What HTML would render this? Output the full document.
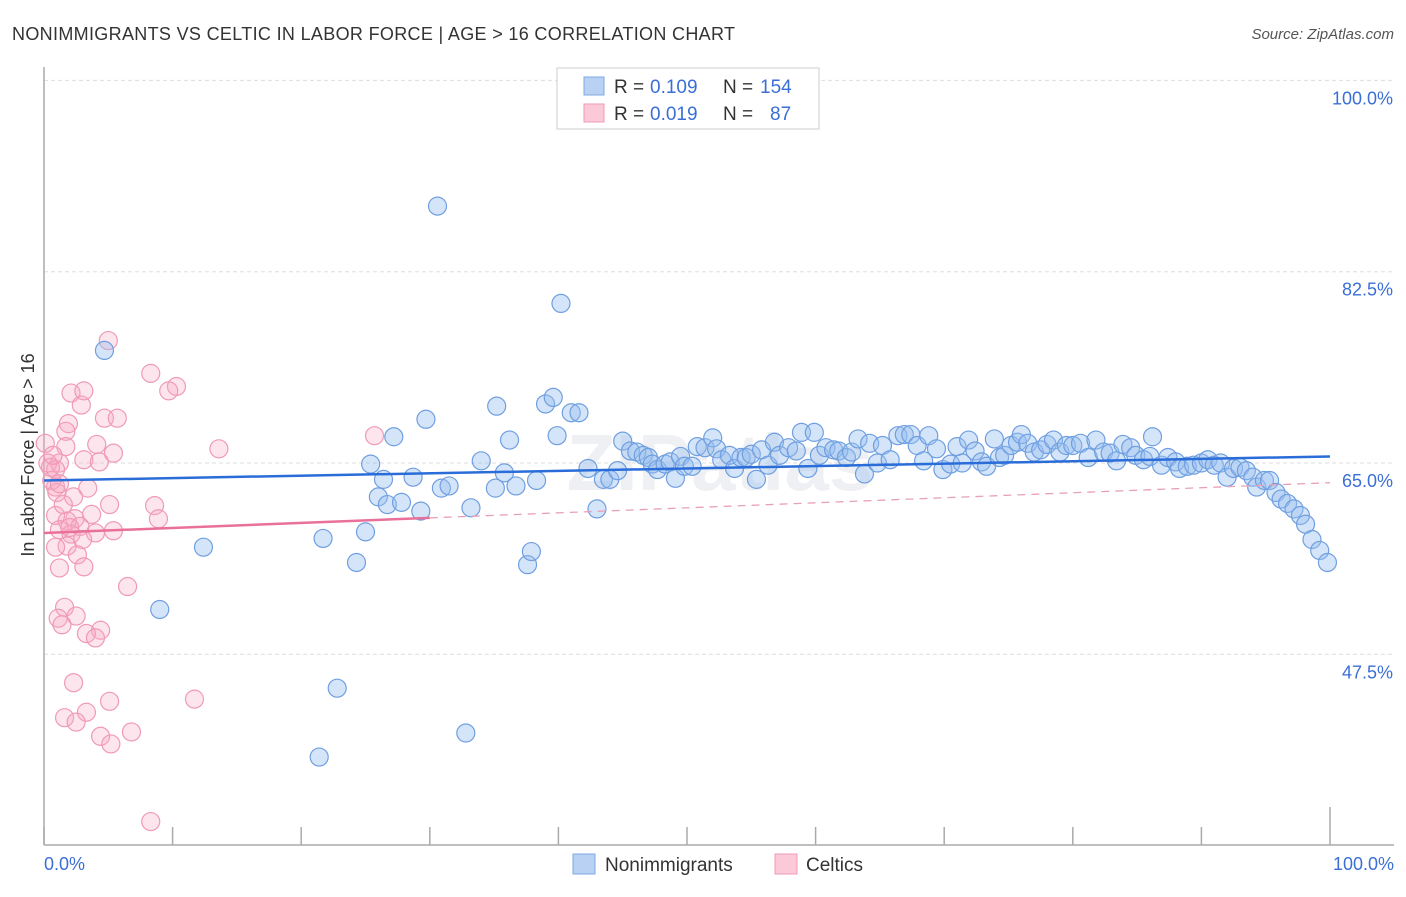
<!DOCTYPE html>
<html><head><meta charset="utf-8"><style>
body{margin:0;background:#fff;font-family:"Liberation Sans",sans-serif;}
svg text{font-family:"Liberation Sans",sans-serif;}
</style></head><body>
<svg id="chart" width="1406" height="892" xmlns="http://www.w3.org/2000/svg">
<text x="12" y="40" font-size="18" fill="#333" textLength="723">NONIMMIGRANTS VS CELTIC IN LABOR FORCE | AGE &gt; 16 CORRELATION CHART</text>
<text x="1394" y="39" font-size="15" fill="#555" font-style="italic" text-anchor="end">Source: ZipAtlas.com</text>
<text x="720" y="490" font-size="80" fill="#eef0f3" text-anchor="middle" font-weight="bold">ZIPatlas</text>
<g id="grid"></g>
<g id="axes"></g>
<g id="marks"></g>
<text transform="translate(34,455) rotate(-90)" font-size="18" fill="#333" text-anchor="middle">In Labor Force | Age &gt; 16</text>
<text x="44" y="870" font-size="18" fill="#3b6fd6">0.0%</text>
<text x="1394" y="870" font-size="18" fill="#3b6fd6" text-anchor="end">100.0%</text>
<g>
<rect x="557" y="68" width="262" height="61" fill="#fff" stroke="#ccc"/>
<rect x="584" y="77" width="20" height="18" fill="#b9d2f4" stroke="#7fa8e2"/>
<rect x="584" y="104" width="20" height="18" fill="#fbc9d7" stroke="#f09ab5"/>
<text x="614" y="93" font-size="19" fill="#333">R =</text>
<text x="650" y="93" font-size="19" fill="#3b6fd6">0.109</text>
<text x="723" y="93" font-size="19" fill="#333">N =</text>
<text x="760" y="93" font-size="19" fill="#3b6fd6">154</text>
<text x="614" y="120" font-size="19" fill="#333">R =</text>
<text x="650" y="120" font-size="19" fill="#3b6fd6">0.019</text>
<text x="723" y="120" font-size="19" fill="#333">N =</text>
<text x="770" y="120" font-size="19" fill="#3b6fd6">87</text>
</g>
<g>
<rect x="573" y="854" width="22" height="20" fill="#b9d2f4" stroke="#7fa8e2"/>
<text x="605" y="871" font-size="19" fill="#333">Nonimmigrants</text>
<rect x="775" y="854" width="22" height="20" fill="#fbc9d7" stroke="#f09ab5"/>
<text x="806" y="871" font-size="19" fill="#333">Celtics</text>
</g>
</svg>
<script>
const yTicks=[100,82.5,65,47.5];
const yTickLabels=["100.0%","82.5%","65.0%","47.5%"];
const xTicks=[0,10,20,30,40,50,60,70,80,90,100];
const blueX=[4.7,30.6,40.2,9.0,12.4,22.8,21.4,32.8,21.7,24.3,25.0,26.0,26.7,27.8,25.4,26.4,27.2,28.7,29.7,29.3,30.9,31.5,33.2,34.0,35.1,35.2,35.8,36.2,36.7,37.6,37.9,38.3,39.0,39.6,39.9,41.0,41.6,42.3,43.0,43.5,44.0,44.6,45.0,45.6,46.1,46.6,47.0,47.3,47.7,48.3,48.7,49.1,49.5,49.8,50.4,50.8,51.4,52.0,52.3,52.7,53.3,53.7,54.2,54.6,55.0,55.4,55.8,56.3,56.8,57.2,57.9,58.5,58.9,59.4,59.9,60.3,60.8,61.4,61.8,62.4,62.8,63.3,63.8,64.2,64.8,65.2,65.8,66.4,66.9,67.4,67.9,68.4,68.8,69.4,69.9,70.5,71.0,71.4,71.9,72.4,72.9,73.3,73.9,74.3,74.7,75.2,75.7,76.0,76.5,77.0,77.5,78.0,78.5,79.0,79.5,80.0,80.6,81.2,81.8,82.4,82.9,83.4,83.9,84.5,84.9,85.5,86.0,86.2,86.9,87.4,88.0,88.3,88.9,89.4,90.0,90.5,91.0,91.5,92.0,92.5,93.0,93.5,94.0,94.3,94.9,95.3,95.8,96.2,96.7,97.2,97.7,98.1,98.6,99.2,99.8];
const blueY=[75.3,88.5,79.6,51.6,57.3,44.4,38.1,40.3,58.1,55.9,58.7,61.9,61.2,61.4,64.9,63.5,67.4,63.7,69.0,60.6,62.7,62.9,60.9,65.2,62.7,70.2,64.1,67.1,62.9,55.7,56.9,63.4,70.4,71.0,67.5,69.6,69.6,64.5,60.8,63.5,63.5,64.3,67.0,66.1,66.0,65.7,65.5,64.9,64.4,64.9,65.1,63.6,65.6,64.7,64.7,66.5,66.4,67.3,66.3,65.3,65.7,64.5,65.5,65.5,65.8,63.5,66.2,64.8,66.9,65.7,66.4,66.1,67.8,64.5,67.8,65.7,66.4,66.2,66.1,65.5,66.0,67.2,64.0,66.8,65.0,66.6,65.3,67.5,67.6,67.6,66.6,65.2,67.5,66.3,64.4,64.9,66.5,65.0,67.1,66.1,65.1,64.7,67.2,65.5,65.7,66.6,66.9,67.6,66.8,66.0,66.2,66.7,67.1,66.0,66.6,66.6,66.8,65.5,67.1,66.0,65.9,65.2,66.7,66.4,65.7,65.3,65.6,67.4,64.8,65.5,65.1,64.5,64.7,64.8,65.0,65.3,64.8,65.0,63.7,64.5,64.6,64.3,63.7,62.8,63.4,63.4,62.3,61.7,61.3,60.8,60.2,59.4,58.0,57.0,55.9];
const pinkX=[5.0,8.3,10.3,9.7,2.1,3.1,2.9,4.7,5.7,1.9,1.7,25.7,4.1,1.7,13.6,0.1,5.4,3.1,4.3,1.2,0.3,0.5,0.9,0.6,1.0,3.4,2.3,5.1,8.6,8.9,3.7,0.9,2.4,1.8,2.8,1.2,5.4,4.0,2.1,3.0,1.8,0.9,2.6,3.1,1.2,6.5,1.6,2.5,1.1,1.4,4.4,3.3,4.0,11.7,2.3,5.1,3.3,1.6,2.5,4.4,6.8,5.2,8.3,0.9,0.7,1.2,2.0,1.5];
const pinkY=[76.2,73.2,72.0,71.6,71.4,71.6,70.3,69.1,69.1,68.6,67.9,67.5,66.7,66.5,66.3,66.8,65.9,65.3,65.1,65.0,65.0,64.6,62.8,63.4,62.3,62.7,61.9,61.2,61.1,59.9,60.3,60.2,59.9,59.7,59.2,58.9,58.8,58.6,58.5,58.0,57.4,57.3,56.6,55.5,55.4,53.7,51.8,51.0,50.8,50.2,49.7,49.4,49.0,43.4,44.9,43.2,42.2,41.7,41.3,40.0,40.4,39.3,32.2,64.4,65.7,63.1,59.1,61.2];
const blueTrend=[63.4,65.6];
const pinkTrend=[58.6,63.2];
const X0=44,X1=1330,YT=80,Y0=845;
const xs=p=>X0+p*(X1-X0)/100;
const ys=v=>463-(v-65)*191.3/17.5;
const NS="http://www.w3.org/2000/svg";
function mk(tag,attrs,parent){const e=document.createElementNS(NS,tag);for(const k in attrs)e.setAttribute(k,attrs[k]);document.getElementById(parent).appendChild(e);return e;}
yTicks.forEach((t,i)=>{
 const l=mk('line',{x1:X0,x2:1394,y1:ys(t),y2:ys(t),stroke:'#ddd','stroke-dasharray':'4,3'},'grid');
 
 
 const tx=mk('text',{x:1393,y:ys(t)+24,'font-size':18,fill:'#3b6fd6','text-anchor':'end'},'grid');
 tx.textContent=yTickLabels[i];
 
 
});
let a=mk('line',{x1:X0,x2:X0,y1:67,y2:Y0,stroke:'#aaa','stroke-width':1.5},'axes');


a=mk('line',{x1:X0,x2:1394,y1:Y0,y2:Y0,stroke:'#aaa','stroke-width':1.5},'axes');


xTicks.forEach(t=>{
 const k=mk('line',{x1:xs(t),x2:xs(t),y1:t===100?807:827,y2:Y0,stroke:'#aaa','stroke-width':1.5},'axes');
 
 
});
pinkX.forEach((x,i)=>{
 const c=mk('circle',{cx:xs(x),cy:ys(pinkY[i]),r:9,fill:'rgba(248,170,195,0.3)',stroke:'#f09ab5','stroke-width':1.2},'marks');
 
 
});
blueX.forEach((x,i)=>{
 const c=mk('circle',{cx:xs(x),cy:ys(blueY[i]),r:9,fill:'rgba(150,190,240,0.4)',stroke:'#6f9fe0','stroke-width':1.2},'marks');
 
 
});
const pm=pinkTrend[0]+(pinkTrend[1]-pinkTrend[0])*0.3;
let t=mk('line',{x1:xs(30),y1:ys(pm),x2:xs(100),y2:ys(pinkTrend[1]),stroke:'#e8a0b8','stroke-width':1.3,'stroke-dasharray':'8,6'},'marks');


t=mk('line',{x1:xs(0),y1:ys(pinkTrend[0]),x2:xs(30),y2:ys(pm),stroke:'#e8709a','stroke-width':2.5},'marks');


t=mk('line',{x1:xs(0),y1:ys(blueTrend[0]),x2:xs(100),y2:ys(blueTrend[1]),stroke:'#2a6dd9','stroke-width':2.5},'marks');


</script>
</body></html>
